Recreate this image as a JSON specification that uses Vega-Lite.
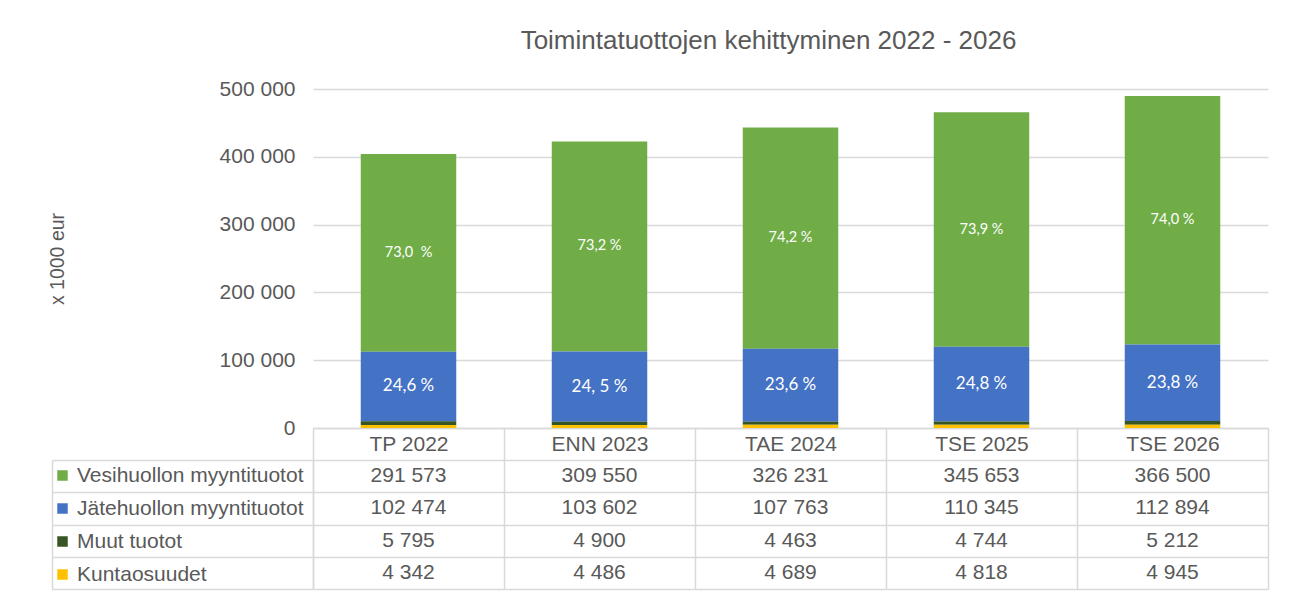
{
  "$schema": "https://vega.github.io/schema/vega-lite/v6.json",
  "background": "white",
  "padding": {"left": 47, "top": 28, "right": 30, "bottom": 10},
  "config": {
    "locale": {"number": {"decimal": ",", "thousands": " ", "grouping": [3], "currency": ["", " €"]}},
    "view": {"stroke": null},
    "font": "Liberation Sans",
    "axis": {"labelFont": "Liberation Sans", "titleFont": "Liberation Sans"},
    "legend": {"labelFont": "Liberation Sans"}
  },
  "datasets": {
    "d": [
      {"cat": "TP 2022", "series": "Vesihuollon myyntituotot", "value": 291573, "label": "73,0\u00a0 %"},
      {"cat": "TP 2022", "series": "Jätehuollon myyntituotot", "value": 102474, "label": "24,6 %"},
      {"cat": "TP 2022", "series": "Muut tuotot", "value": 5795, "label": ""},
      {"cat": "TP 2022", "series": "Kuntaosuudet", "value": 4342, "label": ""},
      {"cat": "ENN 2023", "series": "Vesihuollon myyntituotot", "value": 309550, "label": "73,2 %"},
      {"cat": "ENN 2023", "series": "Jätehuollon myyntituotot", "value": 103602, "label": "24, 5 %"},
      {"cat": "ENN 2023", "series": "Muut tuotot", "value": 4900, "label": ""},
      {"cat": "ENN 2023", "series": "Kuntaosuudet", "value": 4486, "label": ""},
      {"cat": "TAE 2024", "series": "Vesihuollon myyntituotot", "value": 326231, "label": "74,2 %"},
      {"cat": "TAE 2024", "series": "Jätehuollon myyntituotot", "value": 107763, "label": "23,6 %"},
      {"cat": "TAE 2024", "series": "Muut tuotot", "value": 4463, "label": ""},
      {"cat": "TAE 2024", "series": "Kuntaosuudet", "value": 4689, "label": ""},
      {"cat": "TSE 2025", "series": "Vesihuollon myyntituotot", "value": 345653, "label": "73,9 %"},
      {"cat": "TSE 2025", "series": "Jätehuollon myyntituotot", "value": 110345, "label": "24,8 %"},
      {"cat": "TSE 2025", "series": "Muut tuotot", "value": 4744, "label": ""},
      {"cat": "TSE 2025", "series": "Kuntaosuudet", "value": 4818, "label": ""},
      {"cat": "TSE 2026", "series": "Vesihuollon myyntituotot", "value": 366500, "label": "74,0 %"},
      {"cat": "TSE 2026", "series": "Jätehuollon myyntituotot", "value": 112894, "label": "23,8 %"},
      {"cat": "TSE 2026", "series": "Muut tuotot", "value": 5212, "label": ""},
      {"cat": "TSE 2026", "series": "Kuntaosuudet", "value": 4945, "label": ""}
    ]
  },
  "bounds": "flush",
  "spacing": 32,
  "vconcat": [
    {
      "width": 955,
      "height": 339,
      "title": {"text": "Toimintatuottojen kehittyminen 2022 - 2026", "fontSize": 26, "fontWeight": "normal", "color": "#595959", "font": "Liberation Sans", "anchor": "middle", "dx": -22, "baseline": "alphabetic", "offset": 3},
      "data": {"name": "d"},
      "transform": [
        {"calculate": "indexof(['Kuntaosuudet','Muut tuotot','Jätehuollon myyntituotot','Vesihuollon myyntituotot'], datum.series)", "as": "k"},
        {"stack": "value", "groupby": ["cat"], "sort": [{"field": "k", "order": "ascending"}], "as": ["y0", "y1"]},
        {"calculate": "(datum.y0 + datum.y1) / 2", "as": "mid"}
      ],
      "encoding": {
        "x": {
          "field": "cat", "type": "nominal",
          "sort": ["TP 2022", "ENN 2023", "TAE 2024", "TSE 2025", "TSE 2026"],
          "scale": {"paddingInner": 0, "paddingOuter": 0},
          "axis": {"title": null, "orient": "bottom", "tickBand": "extent", "ticks": true, "tickSize": 32, "tickColor": "#d9d9d9", "tickWidth": 1.5, "domain": true, "domainColor": "#d9d9d9", "domainWidth": 1.5, "labelFontSize": 21, "labelColor": "#595959", "labelAngle": 0, "labelBaseline": "middle", "labelPadding": -16, "grid": false}
        }
      },
      "layer": [
        {
          "mark": {"type": "bar", "width": {"band": 0.5}},
          "encoding": {
            "y": {"field": "y0", "type": "quantitative", "title": "x 1000 eur", "scale": {"domain": [0, 500000]},
              "axis": {"values": [0, 100000, 200000, 300000, 400000, 500000], "format": ",d", "ticks": false, "domain": false, "grid": true, "gridColor": "#d9d9d9", "gridWidth": 1.5, "labelFontSize": 21, "labelColor": "#595959", "labelPadding": 18, "titleFontSize": 19.5, "titleFontWeight": "normal", "titleColor": "#595959", "titleX": -256, "titleY": 169.5, "titleAngle": -90, "titleAlign": "center", "titleBaseline": "middle"}},
            "y2": {"field": "y1"},
            "color": {"field": "series", "type": "nominal",
              "scale": {"domain": ["Vesihuollon myyntituotot", "Jätehuollon myyntituotot", "Muut tuotot", "Kuntaosuudet"], "range": ["#70AD47", "#4472C4", "#375623", "#FFC000"]},
              "legend": {"orient": "none", "legendX": -261, "legendY": 376, "title": null, "symbolType": "square", "symbolSize": 110, "symbolStrokeWidth": 0, "labelFontSize": 21, "labelColor": "#595959", "rowPadding": 11, "labelOffset": 4, "labelLimit": 400, "padding": 0}}
          }
        },
        {
          "transform": [{"filter": "datum.label != ''"}],
          "mark": {"type": "text", "color": "white", "font": "Lato"},
          "encoding": {
            "y": {"field": "mid", "type": "quantitative", "title": "x 1000 eur"},
            "text": {"field": "label"},
            "size": {"condition": {"test": "datum.series == 'Jätehuollon myyntituotot'", "value": 17}, "value": 14.5}
          }
        }
      ]
    },
    {
      "width": 955,
      "height": 129,
      "data": {"name": "d"},
      "resolve": {"scale": {"y": "independent"}},
      "layer": [
        {
          "mark": {"type": "text", "fontSize": 21, "color": "#595959", "font": "Liberation Sans"},
          "encoding": {
            "x": {"field": "cat", "type": "nominal",
              "sort": ["TP 2022", "ENN 2023", "TAE 2024", "TSE 2025", "TSE 2026"],
              "scale": {"paddingInner": 0, "paddingOuter": 0},
              "axis": {"title": null, "labels": false, "ticks": false, "domain": false, "grid": true, "tickBand": "extent", "gridColor": "#d9d9d9", "gridWidth": 1.5}},
            "y": {"field": "series", "type": "nominal",
              "sort": ["Vesihuollon myyntituotot", "Jätehuollon myyntituotot", "Muut tuotot", "Kuntaosuudet"],
              "scale": {"paddingInner": 0, "paddingOuter": 0},
              "axis": {"title": null, "orient": "left", "labels": false, "ticks": true, "tickSize": 261, "tickColor": "#d9d9d9", "tickWidth": 1.5, "tickBand": "extent", "grid": true, "gridColor": "#d9d9d9", "gridWidth": 1.5, "domain": true, "domainColor": "#d9d9d9", "domainWidth": 1.5}},
            "text": {"field": "value", "type": "quantitative", "format": ",d"}
          }
        },
        {
          "mark": {"type": "text", "text": ""},
          "encoding": {
            "y": {"field": "series", "type": "nominal",
              "sort": ["Vesihuollon myyntituotot", "Jätehuollon myyntituotot", "Muut tuotot", "Kuntaosuudet"],
              "scale": {"paddingInner": 0, "paddingOuter": 0},
              "axis": {"title": null, "orient": "left", "offset": 261, "labels": false, "ticks": false, "grid": false, "domain": true, "domainColor": "#d9d9d9", "domainWidth": 1.5}}
          }
        }
      ]
    }
  ]
}
